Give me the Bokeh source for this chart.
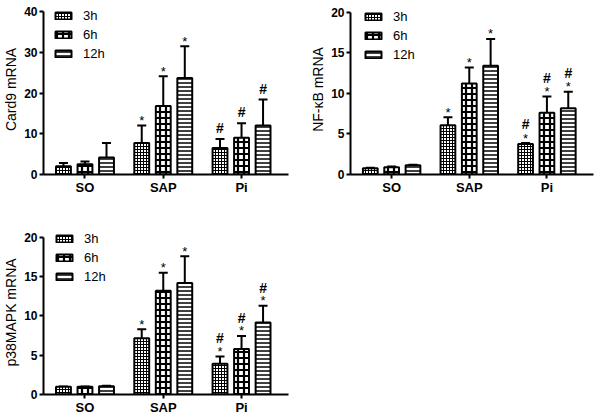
from bokeh.plotting import figure
from bokeh.layouts import gridplot
from bokeh.models import (ColumnDataSource, Whisker, TeeHead, FixedTicker,
                          Legend, LegendItem)
from bokeh.core.properties import value
from bokeh.embed import file_html
from bokeh.resources import INLINE

groups = ["SO", "SAP", "Pi"]
times = ["3h", "6h", "12h"]

# Card9 mRNA (mean, SD)
card9_3h = [2.0, 7.7, 6.5]
card9_3h_sd = [0.8, 4.3, 2.2]
card9_6h = [2.5, 16.8, 9.0]
card9_6h_sd = [0.7, 7.3, 3.6]
card9_12h = [4.2, 23.7, 12.0]
card9_12h_sd = [3.5, 7.8, 6.4]
card9_star = ["", "*", ""]
card9_hash = ["", "", "#"]

# NF-kB mRNA
nfkb_3h = [0.78, 6.08, 3.76]
nfkb_3h_sd = [0.05, 0.98, 0.12]
nfkb_6h = [0.9, 11.2, 7.6]
nfkb_6h_sd = [0.1, 2.0, 2.0]
nfkb_12h = [1.14, 13.4, 8.16]
nfkb_12h_sd = [0.05, 3.3, 2.04]
nfkb_star = ["", "*", "*"]
nfkb_hash = ["", "", "#"]

# p38MAPK mRNA
p38_3h = [0.98, 7.17, 3.9]
p38_3h_sd = [0.05, 1.13, 0.95]
p38_6h = [0.98, 13.2, 5.8]
p38_6h_sd = [0.05, 2.3, 1.65]
p38_12h = [1.06, 14.2, 9.16]
p38_12h_sd = [0.05, 3.4, 2.14]
p38_star = ["", "*", "*"]
p38_hash = ["", "", "#"]

FONT = "Liberation Sans"
offsets = [-0.275, 0.0, 0.275]
hatches = [
    dict(hatch_pattern="cross", hatch_scale=3, hatch_weight=1),
    dict(hatch_pattern="cross", hatch_scale=6, hatch_weight=2.2),
    dict(hatch_pattern="horizontal_line", hatch_scale=4, hatch_weight=1.5),
]


def make_panel(ylabel, ymax, yend, yticks, means, sds, stars, hashes, hash_off,
               width, height, mbl, mbr, mbt, mbb, leg_x, leg_y):
    p = figure(width=width, height=height, x_range=(-0.53, 2.6),
               y_range=(0, yend), output_backend="svg", toolbar_location=None,
               min_border_left=mbl, min_border_right=mbr,
               min_border_top=mbt, min_border_bottom=mbb)
    p.outline_line_color = None
    p.xgrid.visible = False
    p.ygrid.visible = False
    p.background_fill_color = "white"

    items = []
    for i, t in enumerate(times):
        xs = [g + offsets[i] for g in range(len(groups))]
        ups = [m + s for m, s in zip(means[i], sds[i])]
        src = ColumnDataSource(dict(x=xs, top=means[i], up=ups,
                                    star=stars, hash=hashes))
        r = p.vbar(x="x", top="top", width=0.19, source=src,
                   fill_color="white", line_color="black", line_width=2,
                   hatch_color="black", **hatches[i])
        items.append(LegendItem(label=t, renderers=[r]))
        w = Whisker(base="x", upper="up", lower="top", source=src,
                    dimension="height", line_width=2, line_color="black",
                    upper_head=TeeHead(size=9, line_width=2, line_color="black"),
                    lower_head=None)
        p.add_layout(w)
        p.text(x="x", y="up", text="star", source=src, text_align="center",
               text_baseline="middle", y_offset=-5,
               text_font=value(FONT), text_font_size="13px", text_color="black")
        p.text(x="x", y="up", text="hash", source=src, text_align="center",
               text_baseline="middle", y_offset=hash_off,
               text_font=value(FONT), text_font_size="14px",
               text_font_style="bold", text_color="black")

    leg = Legend(items=items, location=(leg_x, leg_y), padding=0, margin=0,
                 spacing=4, glyph_width=20, glyph_height=9, label_height=15,
                 label_standoff=10, border_line_color=None,
                 background_fill_alpha=0, label_text_font=FONT,
                 label_text_font_size="13px", label_text_color="black")
    p.add_layout(leg)

    p.yaxis.ticker = FixedTicker(ticks=yticks)
    p.yaxis.bounds = (0, ymax)
    p.yaxis.axis_label = ylabel
    p.yaxis.axis_label_text_font = FONT
    p.yaxis.axis_label_text_font_size = "14px"
    p.yaxis.axis_label_text_font_style = "normal"
    p.yaxis.axis_label_text_color = "black"
    p.yaxis.axis_label_standoff = 2
    p.yaxis.major_label_text_font = FONT
    p.yaxis.major_label_text_font_size = "12px"
    p.yaxis.major_label_text_font_style = "bold"
    p.yaxis.major_label_standoff = 2

    p.xaxis.ticker = FixedTicker(ticks=list(range(len(groups))))
    p.xaxis.major_label_overrides = {i: g for i, g in enumerate(groups)}
    p.xaxis.major_label_text_font = FONT
    p.xaxis.major_label_text_font_size = "13px"
    p.xaxis.major_label_text_font_style = "bold"
    p.xaxis.major_label_standoff = 1

    for ax in (p.xaxis, p.yaxis):
        ax.axis_line_width = 2
        ax.axis_line_color = "black"
        ax.major_tick_line_width = 2
        ax.major_tick_line_color = "black"
        ax.major_tick_in = 0
        ax.major_tick_out = 4
        ax.minor_tick_line_color = None
        ax.major_label_text_color = "black"
    return p


p1 = make_panel("Card9 mRNA", 40, 41.72, [0, 10, 20, 30, 40],
                [card9_3h, card9_6h, card9_12h],
                [card9_3h_sd, card9_6h_sd, card9_12h_sd],
                card9_star, card9_hash, -11,
                300, 204, 38, 12, 4, 30, 10, 113.5)
p2 = make_panel("NF-κB mRNA", 20, 20.95, [0, 5, 10, 15, 20],
                [nfkb_3h, nfkb_6h, nfkb_12h],
                [nfkb_3h_sd, nfkb_6h_sd, nfkb_12h_sd],
                nfkb_star, nfkb_hash, -19,
                299, 204, 50, 6, 4, 30, 13, 112.5)
p3 = make_panel("p38MAPK mRNA", 20, 20.87, [0, 5, 10, 15, 20],
                [p38_3h, p38_6h, p38_12h],
                [p38_3h_sd, p38_6h_sd, p38_12h_sd],
                p38_star, p38_hash, -18,
                300, 213, 38, 12, 26, 19, 11, 110.5)

grid = gridplot([[p1, p2], [p3, None]], toolbar_location=None)
open("out.html", "w").write(file_html(grid, INLINE))
